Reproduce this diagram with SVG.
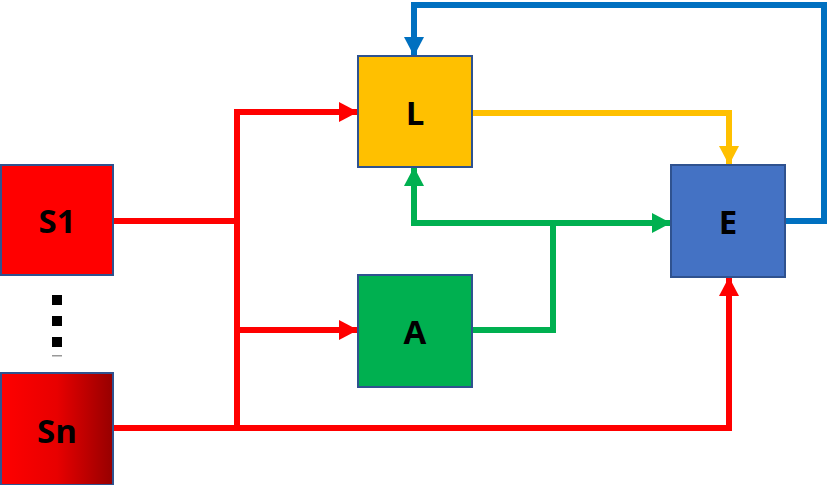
<svg xmlns="http://www.w3.org/2000/svg" width="830" height="485" viewBox="0 0 830 485">
<style>
.node{stroke:#2F528F;stroke-width:2}
.lbl{font-family:"Open Sans","Liberation Sans",sans-serif;font-weight:bold;font-size:33px;fill:#000;text-anchor:middle;dominant-baseline:central}
.c{fill:none;stroke-width:6;stroke-linejoin:miter}
</style>
<defs>
<linearGradient id="gSn" x1="0" y1="0" x2="1" y2="0">
<stop offset="0" stop-color="#FF0000"/>
<stop offset="0.5" stop-color="#E80000"/>
<stop offset="1" stop-color="#960000"/>
</linearGradient>
<marker id="aR" markerUnits="userSpaceOnUse" markerWidth="22" markerHeight="22" refX="19" refY="11" orient="auto"><path d="M0,1 L19,11 L0,21 Z" fill="#FF0000"/></marker>
<marker id="aY" markerUnits="userSpaceOnUse" markerWidth="22" markerHeight="22" refX="19" refY="11" orient="auto"><path d="M0,1 L19,11 L0,21 Z" fill="#FFC000"/></marker>
<marker id="aG" markerUnits="userSpaceOnUse" markerWidth="22" markerHeight="22" refX="19" refY="11" orient="auto"><path d="M0,1 L19,11 L0,21 Z" fill="#00B050"/></marker>
<marker id="aB" markerUnits="userSpaceOnUse" markerWidth="22" markerHeight="22" refX="19" refY="11" orient="auto"><path d="M0,1 L19,11 L0,21 Z" fill="#0070C0"/></marker>
</defs>
<g id="connectors">
<path class="c" stroke="#FF0000" d="M113,221 H237"/>
<path class="c" stroke="#FF0000" d="M237,428 V112 H358" marker-end="url(#aR)"/>
<path class="c" stroke="#FF0000" d="M237,330 H358" marker-end="url(#aR)"/>
<path class="c" stroke="#FF0000" d="M113,428 H729 V277" marker-end="url(#aR)"/>
<path class="c" stroke="#FFC000" d="M472,113 H729 V165" marker-end="url(#aY)"/>
<path class="c" stroke="#00B050" d="M472,330 H553 V223"/>
<path class="c" stroke="#00B050" d="M553,223 H414 V167" marker-end="url(#aG)"/>
<path class="c" stroke="#00B050" d="M553,223 H671" marker-end="url(#aG)"/>
<path class="c" stroke="#0070C0" d="M785,221 H824 V5 H414 V56" marker-end="url(#aB)"/>
</g>
<g id="S1"><rect class="node" x="1" y="165" width="112" height="110" fill="#FF0000"/><text class="lbl" x="57" y="220">S1</text></g>
<g id="dots">
<rect x="52" y="295" width="10" height="10" fill="#000"/>
<rect x="52" y="316" width="10" height="10" fill="#000"/>
<rect x="52" y="337" width="10" height="10" fill="#000"/>
<rect x="52" y="355" width="10" height="1.5" fill="#999"/>
</g>
<g id="Sn"><rect class="node" x="1" y="373" width="112" height="112" fill="url(#gSn)"/><text class="lbl" x="57" y="430">Sn</text></g>
<g id="L"><rect class="node" x="358" y="56" width="114" height="111" fill="#FFC000"/><text class="lbl" x="415" y="112">L</text></g>
<g id="A"><rect class="node" x="358" y="275" width="114" height="112" fill="#00B050"/><text class="lbl" x="415" y="331">A</text></g>
<g id="E"><rect class="node" x="671" y="165" width="114" height="112" fill="#4472C4" stroke="#2E75B6"/><text class="lbl" x="728" y="221">E</text></g>
</svg>
